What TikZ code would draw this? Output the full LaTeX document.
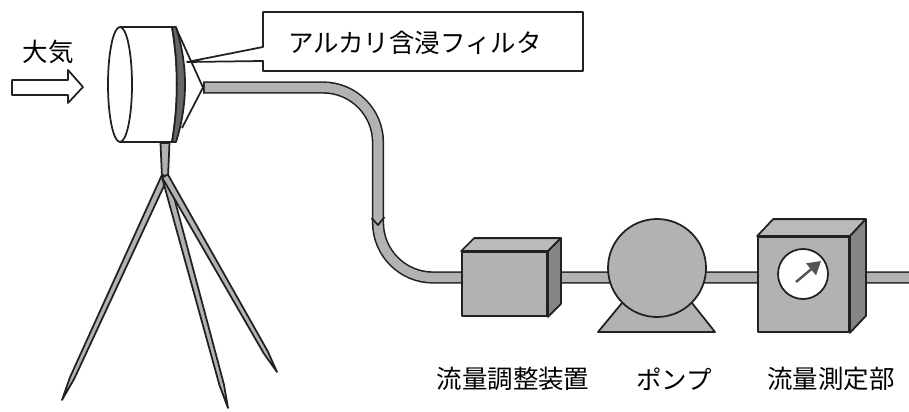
\documentclass[tikz,border=0pt]{standalone}
\usepackage{fontspec}
\setmainfont{Noto Sans CJK JP}
\usetikzlibrary{arrows.meta,calc}
\definecolor{inkgray}{gray}{0.13}
\definecolor{pipegray}{gray}{0.70}
\definecolor{topgray}{gray}{0.73}
\definecolor{sidegray}{gray}{0.52}
\definecolor{bandgray}{gray}{0.40}
\definecolor{dialgray}{gray}{0.33}
\tikzset{
  ink/.style={draw=inkgray, line width=1pt, line join=round},
  frontface/.style={ink, fill=pipegray, inner sep=0pt},
  lbl/.style={font=\fontsize{14.5pt}{17pt}\selectfont, inner sep=0pt},
}

\begin{document}
\begin{tikzpicture}[
  x=0.2mm, y=-0.2mm,
  needle/.style={ink, fill=pipegray},
]
  \useasboundingbox (0,0) rectangle (909,412);

  % inflow arrow and label
  \node[lbl] (air) at (48,52) {大気};
  \draw[ink, fill=white] (12,80) -- (68,80) -- (68,70) -- (83,87) -- (68,103)
    -- (68,95) -- (12,95) -- cycle;

  % tripod
  \coordinate (joint) at (165,176);
  \filldraw[needle] (160.5,143) -- (169.5,143) -- (168,177) -- (162,177) -- cycle;
  \foreach \ex/\ey in {62/400, 228/408, 277/372} {
    \coordinate (foot) at (\ex,\ey);
    \coordinate (knee) at ($(joint)!0.9!(foot)$);
    \filldraw[needle] ($(joint)!0.65mm!90:(foot)$) -- ($(knee)!0.45mm!-90:(joint)$) -- (foot)
      -- ($(knee)!0.45mm!90:(joint)$) -- ($(joint)!0.65mm!-90:(foot)$) -- cycle;
  }

  % filter holder
  \coordinate (tip) at (203,87.5);
  \draw[ink] (176,28) -- (tip) -- (182,128);
  \filldraw[ink, fill=white] (120,27) -- (172,27) .. controls (178.5,65) and (178.5,104) .. (172,142)
    -- (120,142) -- cycle;
  \filldraw[ink, fill=bandgray] (172,27) -- (176,27) .. controls (188,65) and (188,104) .. (176,142)
    -- (172,142) .. controls (178.5,104) and (178.5,65) .. (172,27) -- cycle;
  \filldraw[ink, fill=white] (120,84.5) ellipse [x radius=12, y radius=57.5];

  % callout
  \filldraw[ink, fill=white] (263,12) -- (583,12) -- (583,71) -- (263,71) -- (263,61)
    -- (187,62) -- (263,47) -- cycle;
  \node[lbl] (flt) at (415,43) {アルカリ含浸フィルタ};

  % sampling line
  \coordinate (out) at (909,277.5);
  \foreach \w/\c/\s in {7pt/inkgray/0pt, 5.2pt/pipegray/1pt}
    \draw[line width=\w, draw=\c, shorten <=\s, rounded corners=11mm]
      (tip) -- (378,87.5) -- (378,277.5) -- (out);
  \draw[ink] (371.5,218) -- (378,225) -- (384.5,217);

  % flow regulator
  \node[frontface, minimum width=17mm, minimum height=12.8mm] (reg) at (504.5,284) {};
  \filldraw[ink, fill=topgray] (reg.north west) -- ++(13,-13) -- ($(reg.north east)+(13,-13)$)
    -- (reg.north east) -- cycle;
  \filldraw[ink, fill=sidegray] (reg.north east) -- ++(13,-13) -- ($(reg.south east)+(13,-13)$)
    -- (reg.south east) -- cycle;

  % pump
  \filldraw[ink, fill=pipegray] (622,303) -- (692,303) -- (715,332) -- (598,332) -- cycle;
  \node[frontface, circle, minimum size=19.6mm] (pump) at (657,268) {};

  % flow meter
  \node[frontface, minimum width=18.2mm, minimum height=19mm] (meter) at (803.5,284.5) {};
  \filldraw[ink, fill=topgray] (meter.north west) -- ++(16,-17) -- ($(meter.north east)+(16,-17)$)
    -- (meter.north east) -- cycle;
  \filldraw[ink, fill=sidegray] (meter.north east) -- ++(16,-17) -- ($(meter.south east)+(16,-17)$)
    -- (meter.south east) -- cycle;
  \node[ink, circle, fill=white, minimum size=10mm, inner sep=0pt] (dial) at (803,274) {};
  \draw[-{Triangle[length=2.6mm,width=3mm]}, line width=1.4pt, draw=dialgray]
    ($(dial.center)+(-7,8)$) -- ($(dial.center)+(18,-13)$);

  % labels
  \node[lbl] (reglbl) at (513,379) {流量調整装置};
  \node[lbl] (pumplbl) at (674,379) {ポンプ};
  \node[lbl] (meterlbl) at (831,379) {流量測定部};
\end{tikzpicture}
\end{document}
